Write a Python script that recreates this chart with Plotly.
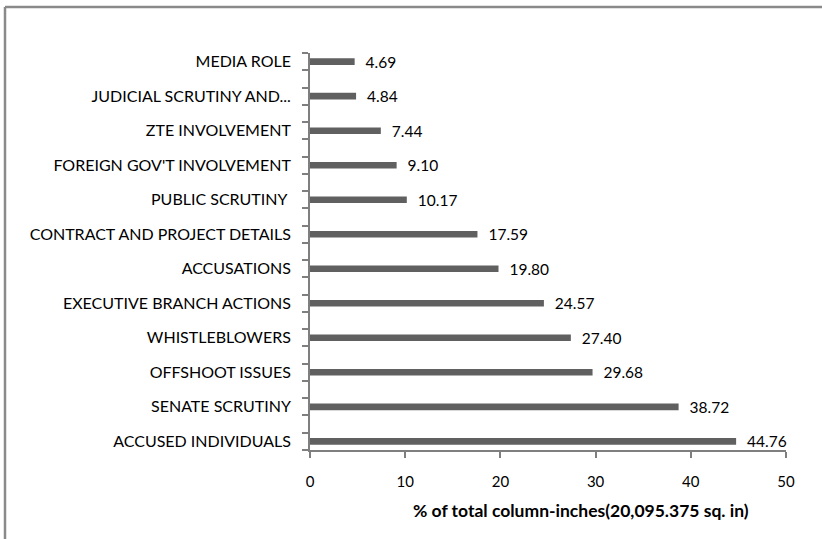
import plotly.graph_objects as go

categories = ["ACCUSED INDIVIDUALS", "SENATE SCRUTINY", "OFFSHOOT ISSUES", "WHISTLEBLOWERS",
              "EXECUTIVE BRANCH ACTIONS", "ACCUSATIONS", "CONTRACT AND PROJECT DETAILS",
              "PUBLIC SCRUTINY ", "FOREIGN GOV'T INVOLVEMENT", "ZTE INVOLVEMENT",
              "JUDICIAL SCRUTINY AND...", "MEDIA ROLE"]
values = [44.76, 38.72, 29.68, 27.40, 24.57, 19.80, 17.59, 10.17, 9.10, 7.44, 4.84, 4.69]
x_ticks = [0, 10, 20, 30, 40, 50]
x_title = "% of total column-inches(20,095.375 sq. in)"

W, H = 822, 539
L, R, T, B = 310, 36, 53, 89
pw, ph = W - L - R, H - T - B

n = len(categories)
idx = list(range(n))
y_range = [-0.25, n - 1 + 0.25]
minor_ticks = sorted([i - 0.25 for i in idx] + [i + 0.25 for i in idx])

fig = go.Figure(go.Bar(
    y=idx, x=values, orientation="h", width=0.19,
    marker=dict(color="#606060", line=dict(width=0)),
    text=["\u00a0\u00a0" + f"{v:.2f}" for v in values], textposition="outside",
    constraintext="none",
    textfont=dict(family="Lato", size=15.5, color="#000000"),
    cliponaxis=False, hoverinfo="skip",
))

def px2paper_x(p):
    return (p - L) / pw

def px2paper_y(p):
    return (H - B - p) / ph

fig.update_layout(
    width=W, height=H,
    margin=dict(l=L, r=R, t=T, b=B, autoexpand=False),
    paper_bgcolor="white", plot_bgcolor="white",
    showlegend=False,
    font=dict(family="Lato", size=15, color="#000000"),
    xaxis=dict(range=[0, 50], tickvals=x_ticks, showgrid=False, zeroline=False,
               automargin=False, ticklabelstandoff=11,
               showline=True, linecolor="#7f7f7f", linewidth=1.8,
               ticks="outside", ticklen=6, tickcolor="#7f7f7f", tickwidth=1.8,
               tickfont=dict(family="Lato", size=15)),
    yaxis=dict(range=y_range, tickmode="array", tickvals=idx, ticktext=categories,
               showgrid=False, zeroline=False, automargin=False,
               showline=True, linecolor="#7f7f7f", linewidth=1.8,
               ticks="", ticklabelstandoff=14,
               minor=dict(tickmode="array", tickvals=minor_ticks, ticks="outside",
                          ticklen=6, tickcolor="#7f7f7f", tickwidth=1.8, showgrid=False),
               tickfont=dict(family="Lato", size=16)),
    annotations=[
        dict(text="<b>" + x_title + "</b>", xref="paper", yref="paper",
             x=px2paper_x(581), y=px2paper_y(511), xanchor="center", yanchor="middle",
             showarrow=False, font=dict(family="Lato", size=17.5, color="#000000")),
    ],
    shapes=[
        dict(type="line", xref="paper", yref="paper",
             x0=px2paper_x(5), x1=px2paper_x(830), y0=px2paper_y(7), y1=px2paper_y(7),
             line=dict(color="#8a8a8a", width=2.5)),
        dict(type="line", xref="paper", yref="paper",
             x0=px2paper_x(5), x1=px2paper_x(5), y0=px2paper_y(7), y1=px2paper_y(545),
             line=dict(color="#8a8a8a", width=2.5)),
    ],
)

fig.write_html("out.html", config={"displayModeBar": False},
               post_script="document.body.style.margin='0px';document.body.style.overflow='hidden';")
